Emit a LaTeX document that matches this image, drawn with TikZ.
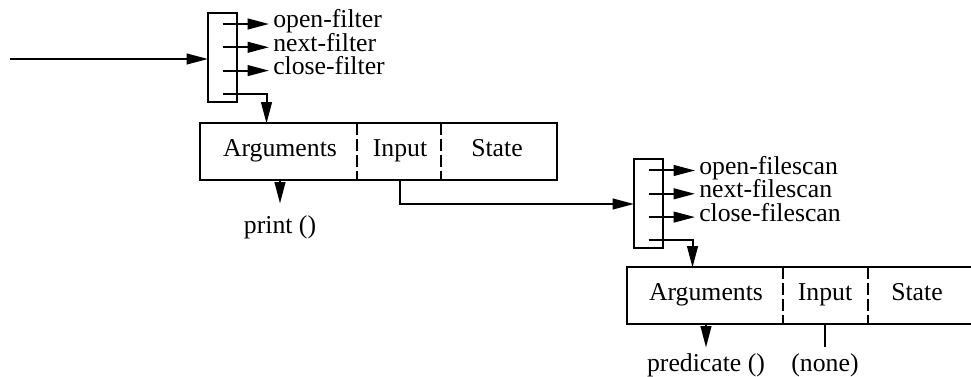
\documentclass[tikz,border=0pt]{standalone}
\usepackage{fontspec}
\setmainfont{Liberation Serif}
\usetikzlibrary{arrows.meta, calc}
\newcommand{\figfont}{\fontsize{19.3}{22}\selectfont}

\begin{document}
\begin{tikzpicture}[x=0.75pt, y=-0.75pt,
  vecbox/.style={draw, line width=1.5pt, minimum width=21.75pt, minimum height=66.75pt,
                 inner sep=0pt, outer sep=0pt},
  record/.style={draw, line width=1.5pt, minimum height=42.75pt, inner sep=0pt, outer sep=0pt},
  field/.style={font=\figfont, anchor=base, inner sep=0pt},
  op/.style={font=\figfont, anchor=west, inner xsep=3pt, inner ysep=0pt,
             text height=11pt, text depth=5pt},
  result/.style={font=\figfont, anchor=north, inner xsep=0pt, inner ysep=4pt,
                 text height=13.5pt, text depth=4pt},
  arr/.style={-{Triangle[length=16pt, width=8pt]}, line width=1.5pt},
  wire/.style={line width=1.5pt},
  sep/.style={line width=1pt, dash pattern=on 9pt off 3pt},
]
\clip (0,0) rectangle (971,377);

% ===== OPERATION VECTORS =====
\node[vecbox] (v1) at (222.5,57.5) {};
\node[vecbox] (v2) at (648.5,204) {};

% ===== STATE RECORDS =====
\node[record, minimum width=267.75pt] (r1) at (378.5,152) {};
\node[record, minimum width=276pt] (r2) at (811,296) {};

\node[field] (r1a) at ($(r1.west)+(80,5)$) {Arguments};
\node[field] (r1b) at ($(r1.west)+(200,5)$) {Input};
\node[field] (r1c) at ($(r1.west)+(297,5)$) {State};

\node[field] (r2a) at ($(r2.west)+(79,5)$) {Arguments};
\node[field] (r2b) at ($(r2.west)+(198,5)$) {Input};
\node[field] (r2c) at ($(r2.west)+(290,5)$) {State};

% field separators
\foreach \r/\a/\b in {r1/157/241, r2/156/241} {
  \draw[sep] ($(\r.north west)+(\a,0)$) -- ($(\r.south west)+(\a,0)$);
  \draw[sep] ($(\r.north west)+(\b,0)$) -- ($(\r.south west)+(\b,0)$);
}

% ===== VECTOR ENTRIES =====
\foreach \v/\n in {v1/filter, v2/filescan} {
  \foreach \i in {1,...,4}
    \coordinate (\v-t\i) at ($(\v.north)+(0,{11+23.3*(\i-1)})$);
  \foreach \i/\o in {1/open, 2/next, 3/close} {
    \node[op] (\v-o\i) at ($(\v-t\i)+(46.5,0)$) {\o-\n};
    \draw[arr] (\v-t\i) -- (\v-o\i);
  }
  \coordinate (\v-d) at ($(\v-t4)+(44,0)$);
}

% last entry points to the state record
\draw[arr] (v1-t4) -- (v1-d) -- (v1-d |- r1.north);
\draw[arr] (v2-t4) -- (v2-d) -- (v2-d |- r2.north);

% ===== MAIN FLOW =====
\coordinate (src) at (10,59);
\draw[arr] (src) -- (src -| v1.west);
\draw[arr] (r1.south -| r1b) |- (v2.west);

% ===== RESULTS BELOW RECORDS =====
\node[result, inner ysep=9pt] (p1) at ($(r1.south -| r1a)+(0,23)$) {print ()};
\node[result] (p2) at ($(r2.south -| r2a)+(0,23)$) {predicate ()};
\node[result] (p3) at ($(r2.south -| r2b)+(0,23)$) {(none)};

\draw[arr] (r1.south -| r1a) -- (p1);
\draw[arr] (r2.south -| r2a) -- (p2);
\draw[wire] (r2.south -| r2b) -- (p3);

\end{tikzpicture}
\end{document}
